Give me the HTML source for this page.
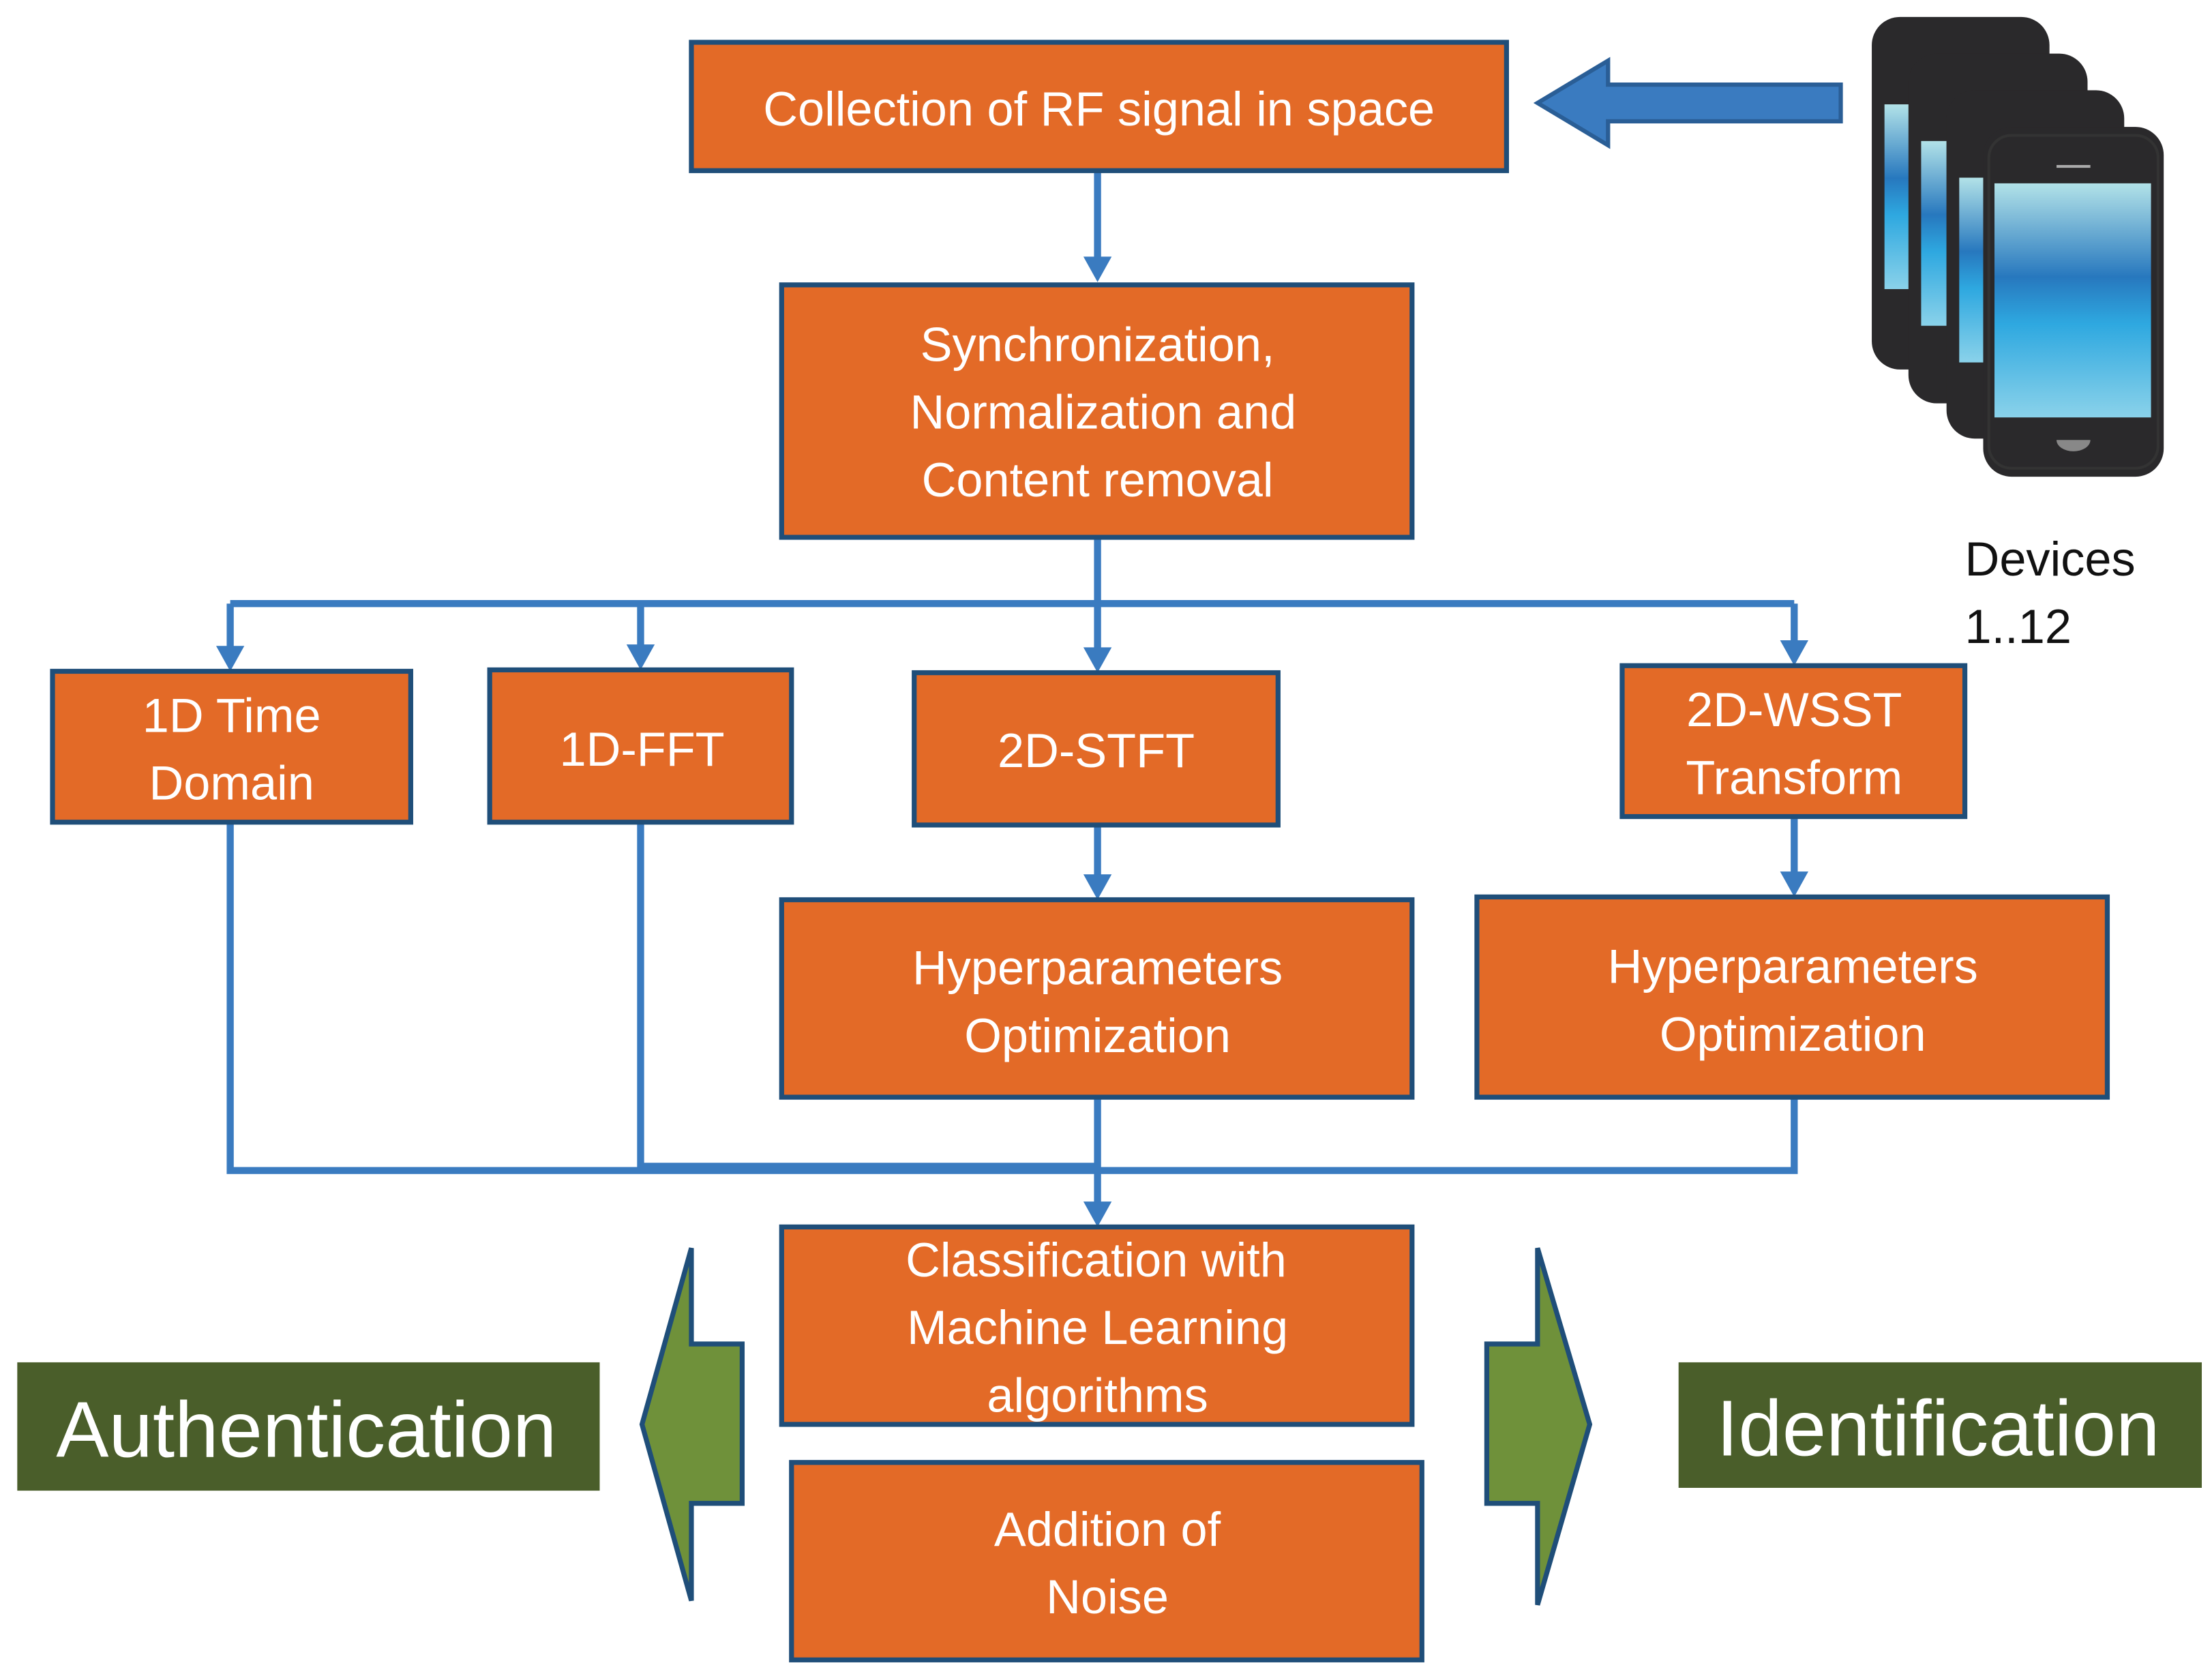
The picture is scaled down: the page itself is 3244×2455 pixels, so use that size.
<!DOCTYPE html>
<html><head><meta charset="utf-8"><style>html,body{margin:0;padding:0;background:#fff}svg{display:block}</style></head>
<body>
<svg width="3244" height="2455" viewBox="0 0 1568 1187" xmlns="http://www.w3.org/2000/svg" font-family="Liberation Sans, sans-serif">
<defs>
<marker id="ah" markerWidth="6" markerHeight="6" refX="5" refY="3" orient="auto" markerUnits="userSpaceOnUse" viewBox="0 0 6 6"><path d="M0,0 L6,3 L0,6 z" fill="#3a7bc0"/></marker>
<linearGradient id="scr" x1="0" y1="0" x2="0" y2="1">
<stop offset="0" stop-color="#b2e2e8"/><stop offset="0.4" stop-color="#2778be"/><stop offset="0.6" stop-color="#2ea8e0"/><stop offset="1" stop-color="#8ad2ea"/></linearGradient>
</defs>
<g fill="none" stroke="#3a7bc0" stroke-width="5">
<path d="M778,121 V186"/>
<path d="M778,381 V428 M163,428 H1272 M163,428 V462 M454,428 V462 M778,428 V462 M1272,428 V458"/>
<path d="M163,583 V830 H778 M454,583 V827 H778 M778,778 V855 M1272,778 V830 H778"/>
<path d="M778,585 V622 M1272,579 V620"/>
</g>
<g fill="#3a7bc0">
<path d="M768,182 L788,182 L778,200 z"/>
<path d="M153,458 L173,458 L163,476 z"/><path d="M444,457 L464,457 L454,475 z"/>
<path d="M768,459 L788,459 L778,477 z"/><path d="M1262,454 L1282,454 L1272,472 z"/>
<path d="M768,620 L788,620 L778,638 z"/><path d="M1262,618 L1282,618 L1272,636 z"/>
<path d="M768,852 L788,852 L778,870 z"/>
</g>
<path d="M1305,60 H1140 V43 L1090,73 L1140,103 V86 H1305 z" fill="#3a7bc0" stroke="#2a5e96" stroke-width="3"/>
<g fill="#e36a27" stroke="#1f4e79" stroke-width="3.5">
<rect x="490" y="30" width="578" height="91"/>
<rect x="554" y="202" width="447" height="179"/>
<rect x="37" y="476" width="254" height="107"/>
<rect x="347" y="475" width="214" height="108"/>
<rect x="648" y="477" width="258" height="108"/>
<rect x="1150" y="472" width="243" height="107"/>
<rect x="554" y="638" width="447" height="140"/>
<rect x="1047" y="636" width="447" height="142"/>
<rect x="554" y="870" width="447" height="140"/>
<rect x="561" y="1037" width="447" height="140"/>
</g>
<g fill="#fff" font-size="34" text-anchor="middle" font-family="Liberation Sans, DejaVu Sans, sans-serif">
<text x="779" y="89">Collection of RF signal in space</text>
<text x="778" y="256">Synchronization,</text><text x="782" y="304">Normalization and</text><text x="778" y="352">Content removal</text>
<text x="164" y="519">1D Time</text><text x="164" y="567">Domain</text>
<text x="455" y="543">1D-FFT</text>
<text x="777" y="544">2D-STFT</text>
<text x="1272" y="515">2D-WSST</text><text x="1272" y="563">Transform</text>
<text x="778" y="698">Hyperparameters</text><text x="778" y="746">Optimization</text>
<text x="1271" y="697">Hyperparameters</text><text x="1271" y="745">Optimization</text>
<text x="777" y="905">Classification with</text><text x="778" y="953">Machine Learning</text><text x="778" y="1001">algorithms</text>
<text x="785" y="1096">Addition of</text><text x="785" y="1144">Noise</text>
</g>
<rect x="12" y="966" width="413" height="91" fill="#4a5e2a"/>
<rect x="1190" y="966" width="371" height="89" fill="#4a5e2a"/>
<g fill="#fff" font-size="56" text-anchor="middle">
<text x="217" y="1033">Authentication</text><text x="1374" y="1032">Identification</text>
</g>
<path d="M490,885 V953 H526 V1066 H490 V1135 L455,1010 z" fill="#6f913a" stroke="#1f4e79" stroke-width="3.5"/>
<path d="M1090,885 V953 H1054 V1066 H1090 V1138 L1127,1010 z" fill="#6f913a" stroke="#1f4e79" stroke-width="3.5"/>
<g font-size="34" fill="#111"><text x="1393" y="408">Devices</text><text x="1393" y="456">1..12</text></g>
<g>
<g transform="translate(1327,12)"><rect width="126" height="250" rx="20" fill="#2a292b"/><rect x="9" y="62" width="18" height="131" fill="url(#scr)"/></g>
<g transform="translate(1353,38)"><rect width="127" height="248" rx="20" fill="#2a292b"/><rect x="9" y="62" width="18" height="131" fill="url(#scr)"/></g>
<g transform="translate(1380,64)"><rect width="126" height="247" rx="20" fill="#2a292b"/><rect x="9" y="62" width="18" height="131" fill="url(#scr)"/></g>
<g transform="translate(1406,90)"><rect width="128" height="248" rx="20" fill="#2a292b"/><rect x="4" y="6" width="120" height="236" rx="16" fill="none" stroke="#333" stroke-width="2"/>
<rect x="8" y="40" width="111" height="166" fill="url(#scr)"/>
<rect x="52" y="27" width="24" height="2" fill="#aaa"/>
<path d="M52,222 a12,8 0 0 0 24,0 z" fill="#888"/></g>
</g>
</svg>
</body></html>
